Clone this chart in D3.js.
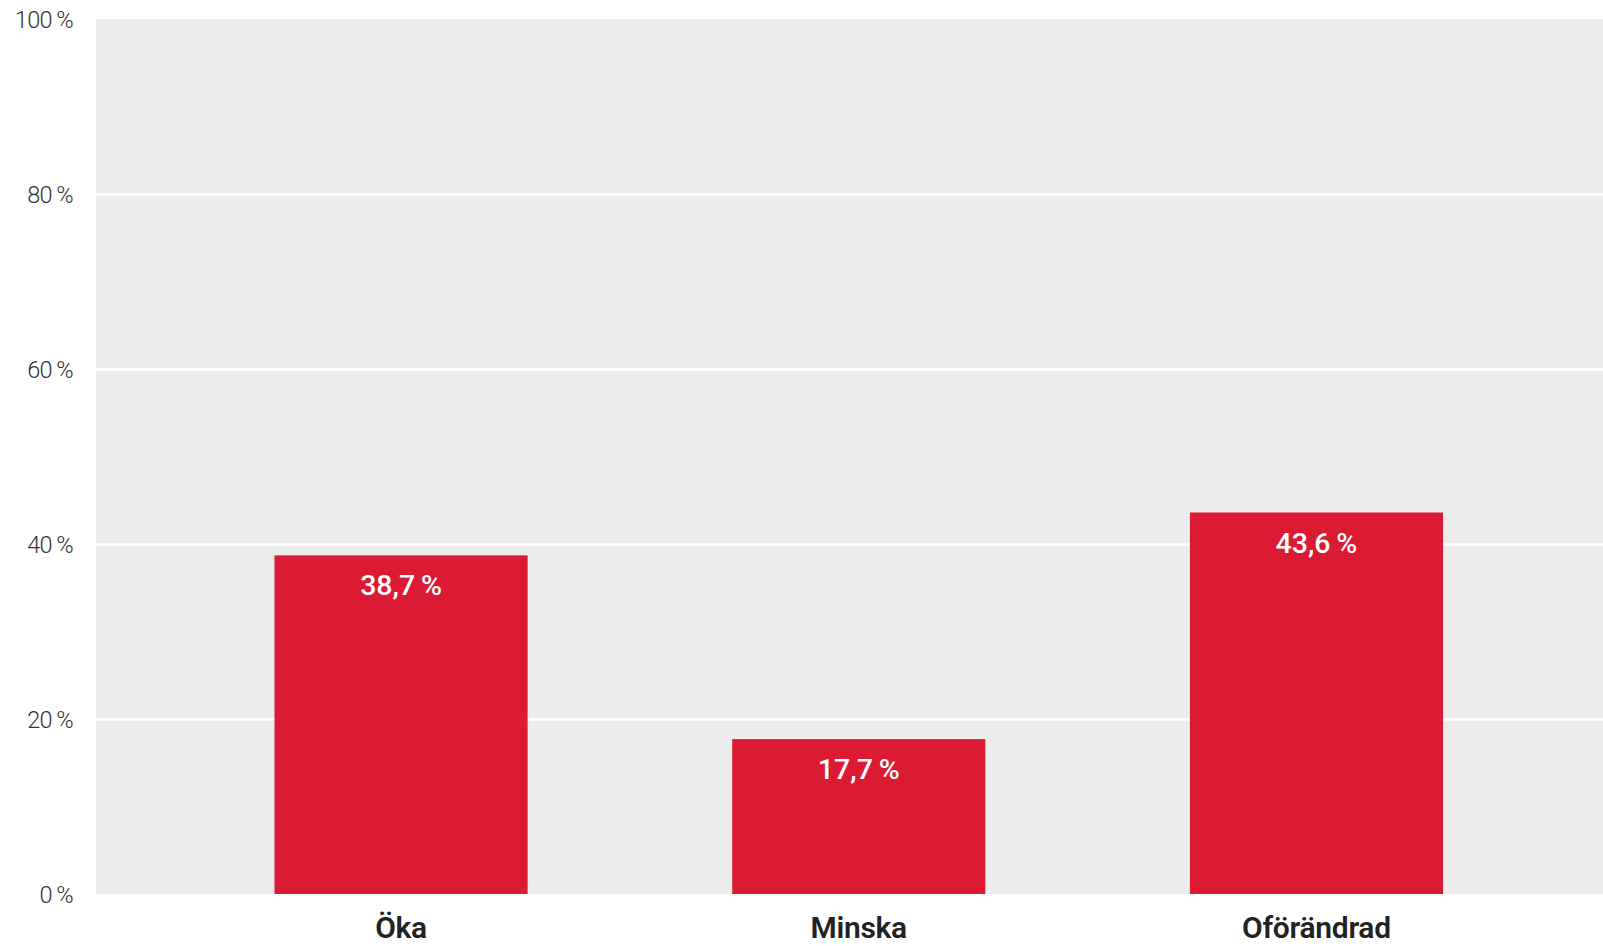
<!DOCTYPE html>
<html>
<head>
<meta charset="utf-8">
<script src="https://cdn.jsdelivr.net/npm/d3@7"></script>
<style>
  html, body { margin: 0; padding: 0; background: #ffffff; }
  svg { display: block; font-family: "Roboto", "Noto Sans", sans-serif; }
</style>
</head>
<body>
<svg id="chart" width="1603" height="946"></svg>
<script>
// Svar: andel per kategori (procent)
const categories = ["Öka", "Minska", "Oförändrad"];
const values = [38.7, 17.7, 43.6];
const valueLabels = ["38,7", "17,7", "43,6"];
const yTicks = [0, 20, 40, 60, 80, 100];

const width = 1603, height = 946;
const plot = { left: 96, top: 19, bottom: 894, right: 1621.5 };

const svg = d3.select("#chart");

const x = d3.scaleBand()
  .domain(categories)
  .range([plot.left, plot.right])
  .paddingInner(0.447)
  .paddingOuter(0.39);

const y = d3.scaleLinear()
  .domain([0, 100])
  .range([plot.bottom, plot.top]);

// plot background
svg.append("rect")
  .attr("x", plot.left)
  .attr("y", plot.top)
  .attr("width", width - plot.left)
  .attr("height", plot.bottom - plot.top)
  .attr("fill", "#ececec");

// horizontal gridlines
const grid = svg.append("g")
  .attr("transform", `translate(${plot.left},0)`)
  .call(d3.axisLeft(y).tickValues(yTicks.slice(1, -1)).tickSize(-(width - plot.left)).tickFormat(""));
grid.select(".domain").remove();
grid.selectAll(".tick line").attr("stroke", "#ffffff").attr("stroke-width", 2.6);

// y tick labels
const yAxis = svg.append("g")
  .attr("transform", `translate(${plot.left},0)`)
  .call(d3.axisLeft(y).tickValues(yTicks).tickSize(0).tickPadding(23)
    .tickFormat(d => d + "\u2009%"));
yAxis.attr("font-family", null).attr("font-size", null);
yAxis.select(".domain").remove();
yAxis.selectAll(".tick text")
  .attr("font-size", 23.5)
  .attr("font-weight", 300)
  .attr("letter-spacing", -0.6)
  .attr("fill", "#333333")
  .attr("dy", "0.35em");

// bars
svg.append("g").selectAll("rect")
  .data(categories)
  .join("rect")
  .attr("x", d => x(d))
  .attr("y", (d, i) => y(values[i]))
  .attr("width", x.bandwidth())
  .attr("height", (d, i) => y(0) - y(values[i]))
  .attr("fill", "#db1a34");

// value labels inside the bars
svg.append("g").selectAll("text")
  .data(categories)
  .join("text")
  .attr("x", d => x(d) + x.bandwidth() / 2)
  .attr("y", (d, i) => y(values[i]) + 40)
  .attr("text-anchor", "middle")
  .attr("font-size", 28.5)
  .attr("font-weight", 500)
  .attr("fill", "#ffffff")
  .text((d, i) => valueLabels[i] + "\u2009%");

// category labels
svg.append("g").selectAll("text")
  .data(categories)
  .join("text")
  .attr("x", d => x(d) + x.bandwidth() / 2)
  .attr("y", 938)
  .attr("text-anchor", "middle")
  .attr("font-size", 30)
  .attr("font-weight", 600)
  .attr("letter-spacing", -0.3)
  .attr("fill", "#222222")
  .text(d => d);
</script>
</body>
</html>
